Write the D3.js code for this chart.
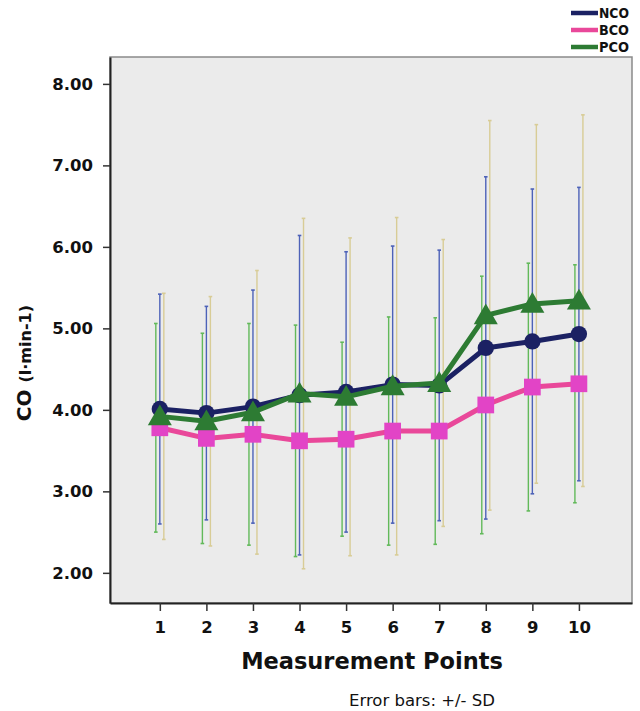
<!DOCTYPE html>
<html>
<head>
<meta charset="utf-8">
<script src="https://cdn.jsdelivr.net/npm/d3@7"></script>
<style>
  body { margin: 0; background: #fff; }
</style>
</head>
<body>
<div id="chart"></div>
<script>
// measurement points on the x axis
const points = [1, 2, 3, 4, 5, 6, 7, 8, 9, 10];
const yTicks = [2, 3, 4, 5, 6, 7, 8];

// means
const ncoMean = [4.01, 3.96, 4.04, 4.18, 4.22, 4.31, 4.30, 4.76, 4.84, 4.93];
const bcoMean = [3.78, 3.65, 3.70, 3.62, 3.64, 3.74, 3.74, 4.06, 4.28, 4.32];
const pcoMean = [3.92, 3.86, 3.97, 4.20, 4.16, 4.29, 4.33, 5.16, 5.30, 5.34];

// standard deviations (error bars +/- SD)
const ncoSD = [1.41, 1.31, 1.43, 1.96, 1.72, 1.70, 1.66, 2.10, 1.87, 1.80];
const bcoSD = [1.28, 1.29, 1.36, 1.42, 1.19, 1.40, 1.39, 1.58, 1.52, 1.46];
const pcoSD = [1.51, 1.53, 1.74, 2.15, 1.95, 2.07, 1.76, 2.39, 2.20, 2.28];

const width = 640;
const height = 711;
const margin = { top: 57, right: 8, bottom: 108, left: 110 };

const series = [
  { name: "NCO", mean: ncoMean, sd: ncoSD, line: "#1b2163", marker: "#1b2163", bar: "#4d62b8", shape: "circle", offset: 0 },
  { name: "BCO", mean: bcoMean, sd: bcoSD, line: "#e9489a", marker: "#e244c6", bar: "#62b95a", shape: "square", offset: -4 },
  { name: "PCO", mean: pcoMean, sd: pcoSD, line: "#2d7b33", marker: "#2d7b33", bar: "#d8cc96", shape: "triangle", offset: 4 }
];

const svg = d3.select("#chart").append("svg")
  .attr("width", width)
  .attr("height", height)
  .attr("viewBox", [0, 0, width, height]);

const x = d3.scaleLinear()
  .domain([-0.07, 11.14])
  .range([margin.left, width - margin.right]);

const y = d3.scaleLinear()
  .domain([1.63, 8.33])
  .range([height - margin.bottom, margin.top]);

// plot background + frame
svg.append("rect")
  .attr("x", margin.left)
  .attr("y", margin.top)
  .attr("width", width - margin.left - margin.right)
  .attr("height", height - margin.top - margin.bottom)
  .attr("fill", "#ebebeb")
  .attr("stroke", "#8a8a8a")
  .attr("stroke-width", 1.5);

// y axis
const yAxis = svg.append("g")
  .attr("transform", `translate(${margin.left},0)`)
  .call(d3.axisLeft(y).tickValues(yTicks).tickFormat(d3.format(".2f")).tickSize(7).tickSizeOuter(0));
yAxis.select(".domain").attr("stroke", "#222").attr("stroke-width", 2);
yAxis.selectAll(".tick line").attr("stroke", "#333").attr("stroke-width", 1.5);
yAxis.selectAll(".tick text")
  .attr("x", -17)
  .attr("font-family", "DejaVu Sans")
  .attr("font-weight", "bold")
  .attr("font-size", 16.5)
  .attr("fill", "#111");

// x axis
const xAxis = svg.append("g")
  .attr("transform", `translate(0,${height - margin.bottom})`)
  .call(d3.axisBottom(x).tickValues(points).tickFormat(d3.format("d")).tickSize(8).tickSizeOuter(0));
xAxis.select(".domain").attr("stroke", "#222").attr("stroke-width", 2);
xAxis.selectAll(".tick line").attr("stroke", "#333").attr("stroke-width", 1.5);
xAxis.selectAll(".tick text")
  .attr("y", 18)
  .attr("font-family", "DejaVu Sans")
  .attr("font-weight", "bold")
  .attr("font-size", 16.5)
  .attr("fill", "#111");

// error bars
series.forEach(s => {
  const g = svg.append("g");
  const data = points.map((p, i) => ({ p, lo: s.mean[i] - s.sd[i], hi: s.mean[i] + s.sd[i] }));
  g.selectAll("line.bar")
    .data(data)
    .join("line")
    .attr("x1", d => x(d.p) + s.offset)
    .attr("x2", d => x(d.p) + s.offset)
    .attr("y1", d => y(d.lo))
    .attr("y2", d => y(d.hi))
    .attr("stroke", s.bar)
    .attr("stroke-width", 1.4);
  ["lo", "hi"].forEach(k => {
    g.selectAll("line.cap-" + k)
      .data(data)
      .join("line")
      .attr("x1", d => x(d.p) + s.offset - 1.8)
      .attr("x2", d => x(d.p) + s.offset + 1.8)
      .attr("y1", d => y(d[k]))
      .attr("y2", d => y(d[k]))
      .attr("stroke", s.bar)
      .attr("stroke-width", 1.6);
  });
});

// lines + markers (BCO under NCO under PCO, as in the reference)
const lineGen = d3.line().x(d => x(d[0])).y(d => y(d[1]));
const symbols = {
  circle: d3.symbol().type(d3.symbolCircle).size(210),
  square: d3.symbol().type(d3.symbolSquare).size(280),
  triangle: d3.symbol().type(d3.symbolTriangle).size(250)
};

[series[1], series[0], series[2]].forEach(s => {
  const pts = points.map((p, i) => [p, s.mean[i]]);
  svg.append("path")
    .datum(pts)
    .attr("fill", "none")
    .attr("stroke", s.line)
    .attr("stroke-width", 5)
    .attr("stroke-linejoin", "round")
    .attr("d", lineGen);
  svg.append("g")
    .selectAll("path")
    .data(pts)
    .join("path")
    .attr("transform", d => `translate(${x(d[0])},${y(d[1]) + (s.shape === "triangle" ? 2 : 0)})`)
    .attr("d", symbols[s.shape])
    .attr("fill", s.marker);
});

// axis titles
const yTitle = svg.append("text")
  .attr("transform", `translate(31,${(y(4.0) + y(5.0)) / 2 - 6}) rotate(-90)`)
  .attr("text-anchor", "middle")
  .attr("font-family", "DejaVu Sans")
  .attr("font-weight", "bold")
  .attr("fill", "#111");
yTitle.append("tspan").attr("font-size", 20).text("CO ");
yTitle.append("tspan").attr("font-size", 16).text("(l·min-1)");

svg.append("text")
  .attr("x", 372)
  .attr("y", 669)
  .attr("text-anchor", "middle")
  .attr("font-family", "DejaVu Sans")
  .attr("font-weight", "bold")
  .attr("font-size", 22.5)
  .attr("fill", "#111")
  .text("Measurement Points");

svg.append("text")
  .attr("x", 422)
  .attr("y", 706)
  .attr("text-anchor", "middle")
  .attr("font-family", "DejaVu Sans")
  .attr("font-size", 16.5)
  .attr("fill", "#111")
  .text("Error bars: +/- SD");

// legend
const legend = svg.append("g").attr("transform", "translate(571,13)");
series.forEach((s, i) => {
  const row = legend.append("g").attr("transform", `translate(0,${i * 17})`);
  row.append("line")
    .attr("x1", 0).attr("x2", 27)
    .attr("stroke", s.line)
    .attr("stroke-width", 4.5);
  row.append("text")
    .attr("x", 28)
    .attr("dy", "0.36em")
    .attr("font-family", "DejaVu Sans")
    .attr("font-weight", "bold")
    .attr("font-size", 14)
    .attr("textLength", 30)
    .attr("lengthAdjust", "spacingAndGlyphs")
    .attr("fill", "#111")
    .text(s.name);
});
</script>
</body>
</html>
